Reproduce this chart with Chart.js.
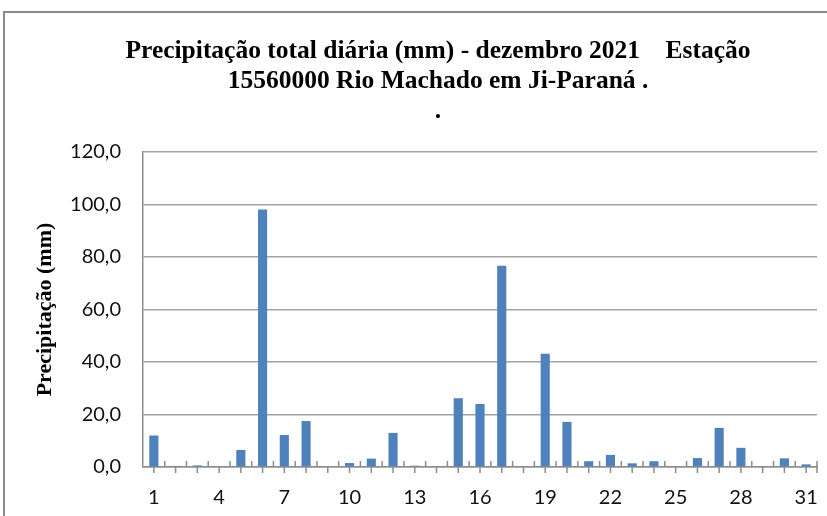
<!DOCTYPE html>
<html>
<head>
<meta charset="utf-8">
<script src="https://cdn.jsdelivr.net/npm/chart.js@4/dist/chart.umd.min.js"></script>
<style>
  html, body { margin: 0; padding: 0; background: #fff; overflow: hidden; }
  #frame { position: absolute; left: 3px; top: 11px; width: 900px; height: 600px; border: 2px solid #8a8a8a; }
  #chart { position: absolute; left: 0; top: 0; }
</style>
</head>
<body>
<div id="frame"></div>
<canvas id="chart" width="876" height="516"></canvas>
<script>
// days of december 2021
const days = ["1","2","3","4","5","6","7","8","9","10","11","12","13","14","15","16",
  "17","18","19","20","21","22","23","24","25","26","27","28","29","30","31"];
// daily rainfall (mm)
const rain = [12.0, 0.4, 0.6, 0, 6.5, 98.1, 12.2, 17.5, 0, 1.5, 3.2, 13.0, 0.5, 0, 26.2, 24.0,
  76.7, 0, 43.1, 17.2, 2.2, 4.6, 1.4, 2.2, 0, 3.4, 14.9, 7.3, 0, 3.3, 1.0];
const xTickLabels = ["1","4","7","10","13","16","19","22","25","28","31"];
const yTickValues = [0, 20, 40, 60, 80, 100, 120];

const gridGray = "#a3a3a3";
const axisGray = "#8c8c8c";

// small tick marks: below the axis at each category, above it at each boundary
const tickMarks = {
  id: "tickMarks",
  beforeDatasetsDraw(chart) {
    const x = chart.scales.x;
    const y0 = chart.scales.y.getPixelForValue(0);
    const ctx = chart.ctx;
    const half = (x.getPixelForValue(1) - x.getPixelForValue(0)) / 2;
    ctx.save();
    ctx.strokeStyle = axisGray;
    ctx.lineWidth = 1.5;
    ctx.beginPath();
    for (let i = 0; i < days.length; i++) {
      const cx = x.getPixelForValue(i);
      ctx.moveTo(cx, y0);
      ctx.lineTo(cx, y0 + 6);
      const bx = cx + half;
      ctx.moveTo(bx, y0 - 6);
      ctx.lineTo(bx, y0 + (i === days.length - 1 ? 6 : 0));
    }
    ctx.stroke();
    ctx.restore();
  }
};

new Chart(document.getElementById("chart").getContext("2d"), {
  type: "bar",
  data: {
    labels: days,
    datasets: [{
      data: rain,
      backgroundColor: "#4f81bd",
      borderWidth: 0,
      barPercentage: 0.42,
      categoryPercentage: 1.0
    }]
  },
  options: {
    responsive: false,
    animation: false,
    layout: { padding: 0 },
    plugins: {
      legend: { display: false },
      tooltip: { enabled: false },
      title: {
        display: true,
        text: ["Precipitação total diária (mm) - dezembro 2021    Estação",
               "15560000 Rio Machado em Ji-Paraná .",
               "."],
        color: "#000",
        font: { family: "'Liberation Serif', serif", size: 25.5, weight: "bold", lineHeight: "30px" },
        padding: { top: 36, bottom: 26 }
      }
    },
    scales: {
      x: {
        grid: { display: false, drawTicks: false },
        border: { display: true, color: axisGray, width: 1.5 },
        ticks: {
          autoSkip: false,
          maxRotation: 0,
          padding: 19,
          color: "#111",
          font: { family: "Lato", size: 20 },
          callback: (v, i) => xTickLabels.includes(days[i]) ? days[i] : ""
        },
        afterFit: s => { s.height = 49; }
      },
      y: {
        min: 0,
        max: 120,
        grid: { color: gridGray, lineWidth: 1.5, drawTicks: false },
        border: { display: true, color: axisGray, width: 1.5 },
        afterBuildTicks: s => { s.ticks = yTickValues.map(v => ({ value: v })); },
        ticks: {
          padding: 22,
          color: "#111",
          font: { family: "Lato", size: 20 },
          callback: v => v.toFixed(1).replace(".", ",")
        },
        title: {
          display: true,
          text: "Precipitação (mm)",
          color: "#000",
          font: { family: "'Liberation Serif', serif", size: 22, weight: "bold" },
          padding: { top: 32, bottom: 0 }
        },
        afterFit: s => { s.width = 143; }
      },
      yR: {
        axis: "y",
        position: "right",
        grid: { display: false, drawTicks: false },
        border: { display: false },
        ticks: { display: false },
        afterFit: s => { s.width = 59; }
      }
    }
  },
  plugins: [tickMarks]
});
</script>
</body>
</html>
